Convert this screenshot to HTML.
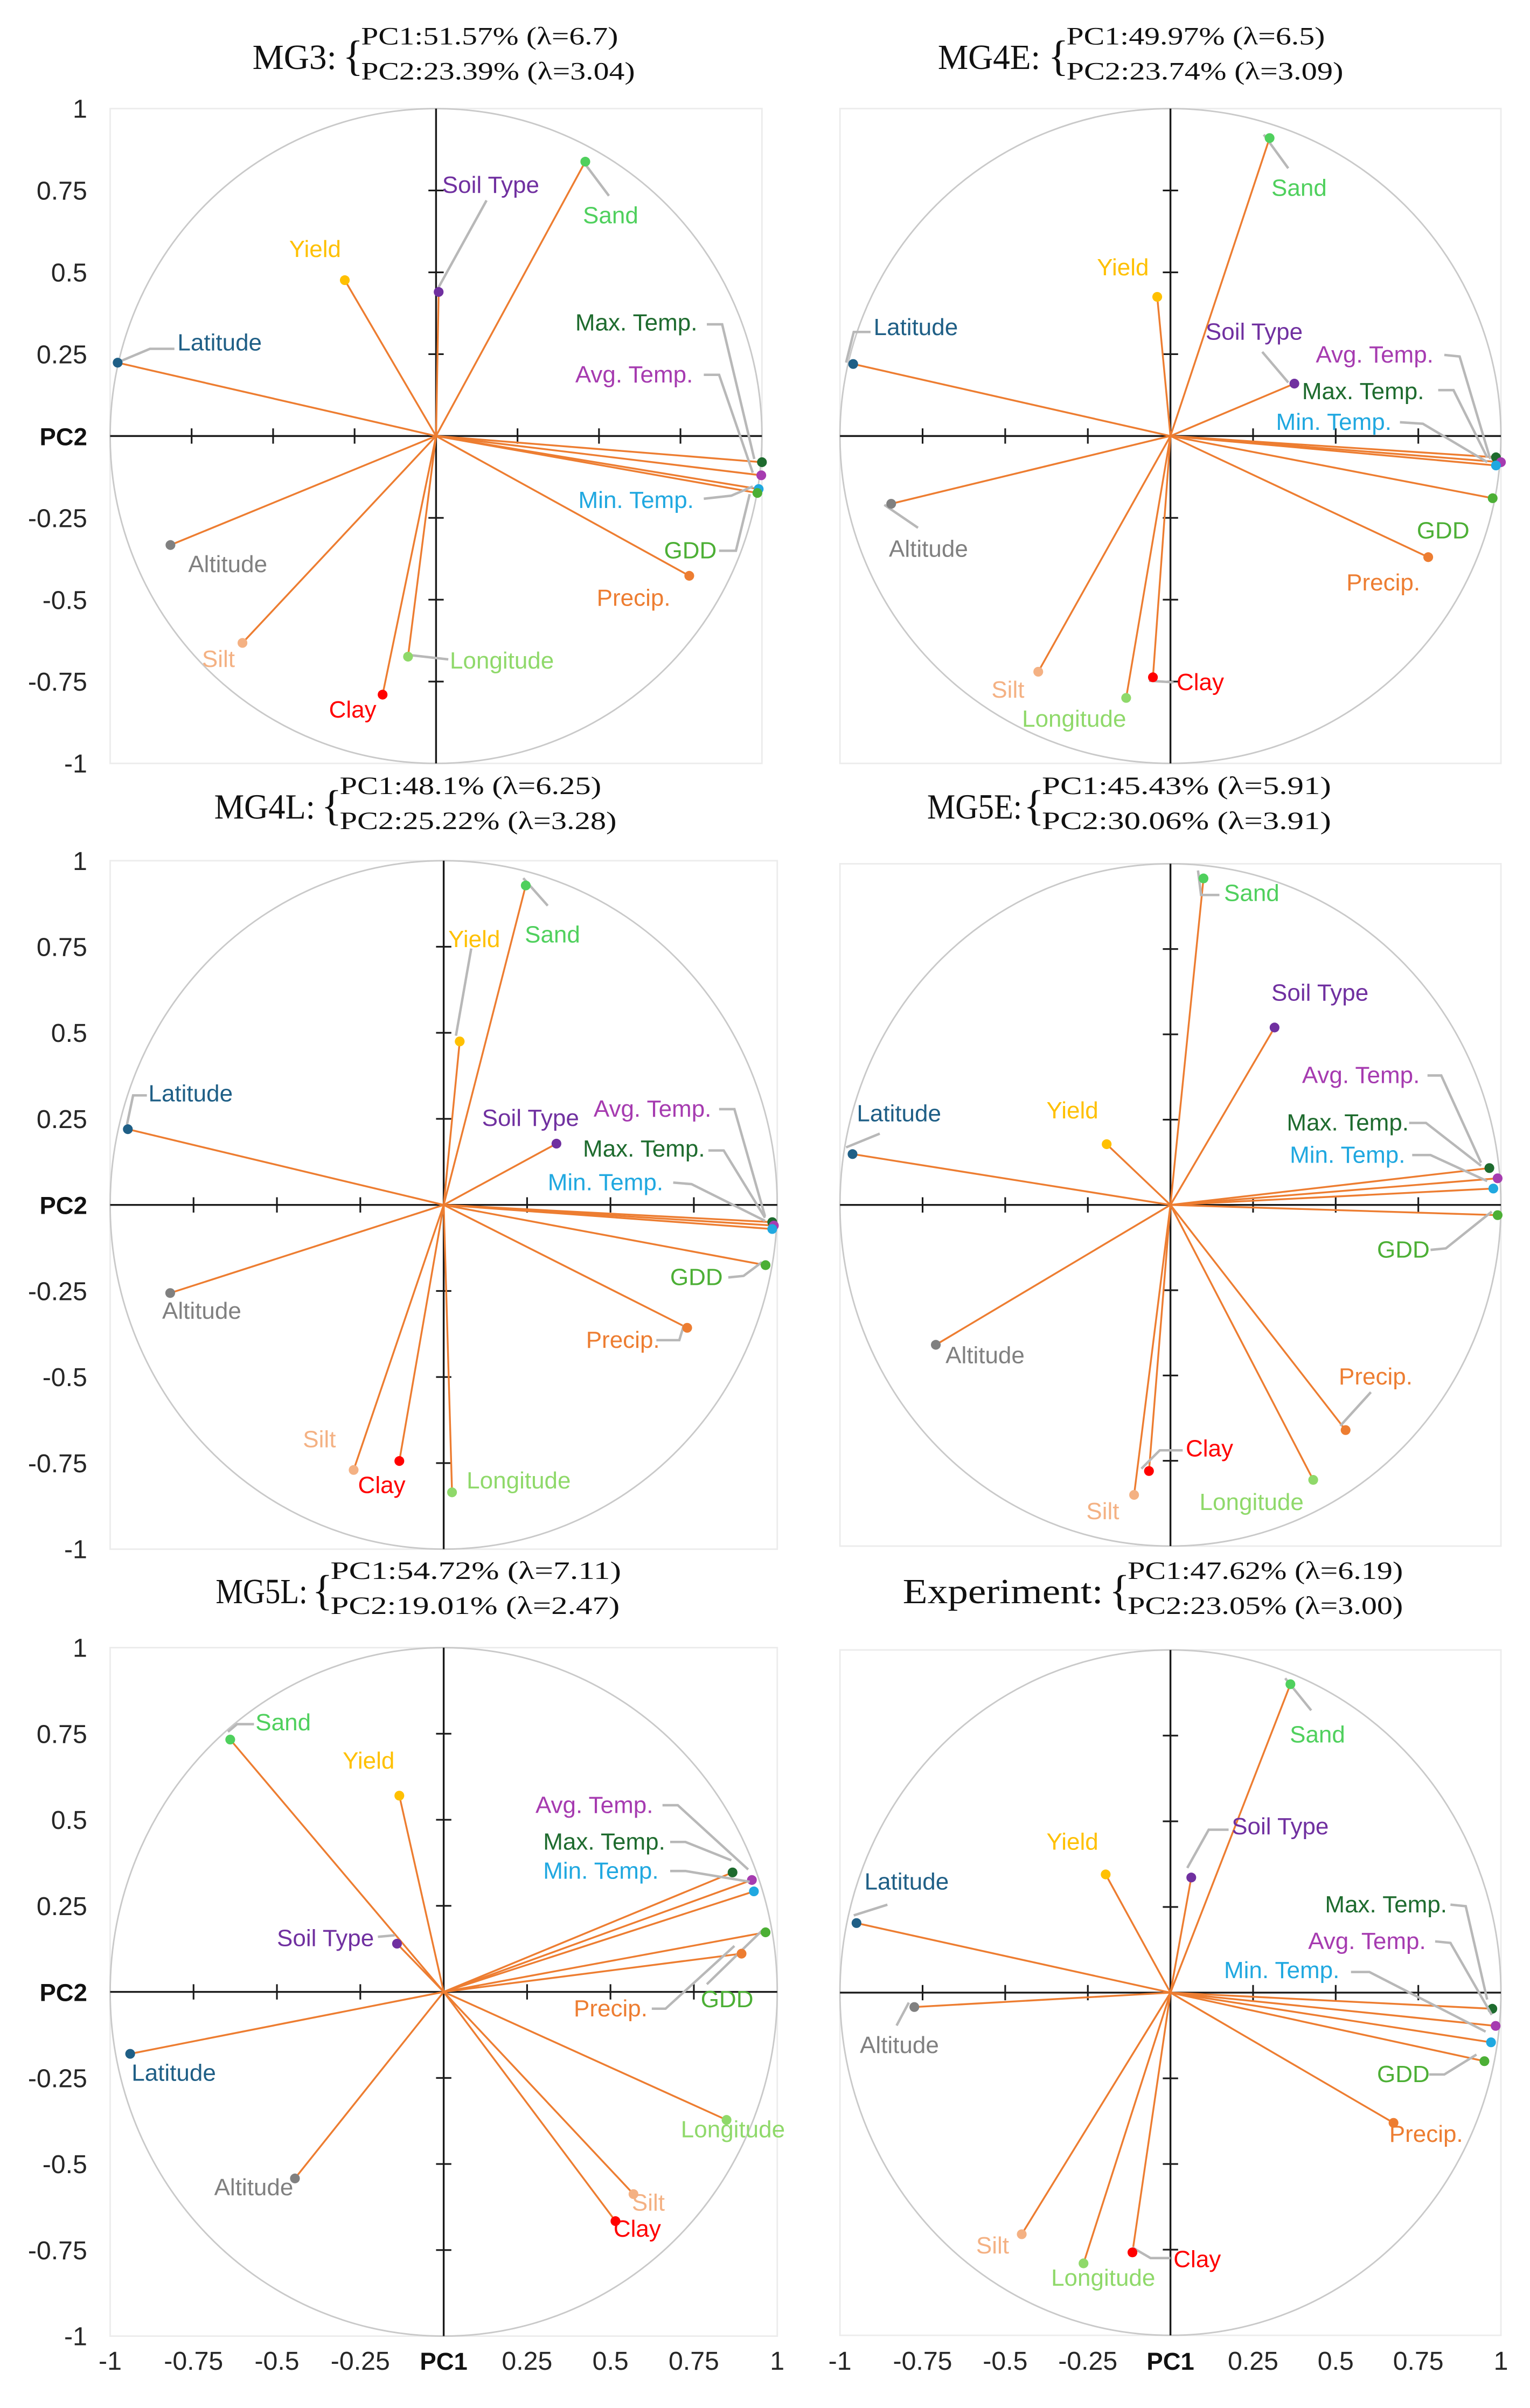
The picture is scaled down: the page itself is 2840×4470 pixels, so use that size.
<!DOCTYPE html>
<html><head><meta charset="utf-8">
<style>
html,body{margin:0;padding:0;background:#fff;}
svg{display:block;}
.tick{font-family:"Liberation Sans",sans-serif;font-size:17px;fill:#262626;}
.ax{font-family:"Liberation Sans",sans-serif;font-size:16px;font-weight:bold;fill:#111;}
.lbl{font-family:"Liberation Sans",sans-serif;font-size:15.5px;}
.ttl{font-family:"Liberation Serif","DejaVu Serif",serif;fill:#111;}
</style></head>
<body>
<svg id="fig" xmlns="http://www.w3.org/2000/svg" width="2840" height="4470" viewBox="0 0 1000 1574" preserveAspectRatio="none"></svg>
<script>
// Variables (shared across panels)
const varNames = ["Latitude","Yield","Soil Type","Sand","Max. Temp.","Avg. Temp.","Min. Temp.","GDD","Precip.","Longitude","Clay","Silt","Altitude"];
const varColors = ["#1f5f86","#ffc000","#7030a0","#4fd05d","#1e6b2e","#a63bb0","#20a8e0","#4caf35","#ed7d31","#8fd96a","#ff0000","#f4b183","#808080"];
// Loadings per panel (PC1 / PC2)
const mg3PC1 = [-0.977,-0.28,0.008,0.458,1.0,0.998,0.99,0.986,0.777,-0.086,-0.164,-0.594,-0.815];
const mg3PC2 = [0.224,0.476,0.44,0.838,-0.08,-0.12,-0.162,-0.174,-0.427,-0.674,-0.79,-0.632,-0.333];
const mg4ePC1 = [-0.96,-0.04,0.375,0.30,0.985,1.0,0.985,0.975,0.78,-0.134,-0.053,-0.40,-0.845];
const mg4ePC2 = [0.22,0.425,0.16,0.91,-0.065,-0.08,-0.09,-0.19,-0.37,-0.80,-0.737,-0.72,-0.207];
const mg4lPC1 = [-0.947,0.048,0.338,0.246,0.985,0.99,0.985,0.965,0.73,0.025,-0.133,-0.27,-0.82];
const mg4lPC2 = [0.22,0.475,0.178,0.928,-0.05,-0.06,-0.07,-0.175,-0.357,-0.835,-0.744,-0.77,-0.256];
const mg5ePC1 = [-0.962,-0.193,0.315,0.10,0.965,0.99,0.977,0.99,0.53,0.432,-0.065,-0.11,-0.71];
const mg5ePC2 = [0.149,0.178,0.52,0.957,0.108,0.078,0.048,-0.03,-0.66,-0.806,-0.78,-0.85,-0.41];
const mg5lPC1 = [-0.94,-0.133,-0.14,-0.64,0.866,0.924,0.93,0.965,0.893,0.848,0.515,0.569,-0.446];
const mg5lPC2 = [-0.18,0.57,0.14,0.733,0.347,0.325,0.292,0.173,0.111,-0.372,-0.666,-0.5875,-0.542];
const expPC1 = [-0.95,-0.196,0.063,0.363,0.974,0.984,0.97,0.95,0.675,-0.263,-0.115,-0.45,-0.775];
const expPC2 = [0.203,0.345,0.336,0.90,-0.047,-0.097,-0.145,-0.20,-0.38,-0.79,-0.758,-0.705,-0.042];
const tickValues = [-1,-0.75,-0.5,-0.25,0,0.25,0.5,0.75,1];
const tickLabels = ["-1","-0.75","-0.5","-0.25","PC1","0.25","0.5","0.75","1"];
const yTickLabels = ["-1","-0.75","-0.5","-0.25","PC2","0.25","0.5","0.75","1"];

const NS="http://www.w3.org/2000/svg";
const svg=document.getElementById('fig');
function mk(tag,attrs,parent){const e=document.createElementNS(NS,tag);for(const k in attrs)e.setAttribute(k,attrs[k]);(parent||svg).appendChild(e);return e;}

const panels=[
 {id:"mg3",name:"MG3:",nx:165,nw:55,l1:"PC1:51.57% (λ=6.7)",l2:"PC2:23.39% (λ=3.04)",lx:236,w1:168,w2:179,by:29,
  pc1:mg3PC1,pc2:mg3PC2,cx:285,cy:285,rx:213,ry:214,yl:true,xl:false,
  labels:[[116,229,[[79,236],[98,228],[114,228]]],[189,168,null],[289,126,[[286,189],[318,131]]],[381,146,[[380,104],[398,128]]],[376,216,[[462,212],[472,212],[493,300]]],[376,250,[[460,245],[470,245],[492,309]]],[378,332,[[460,326],[478,324],[492,318]]],[434,365,[[470,360],[481,360],[490,323]]],[390,396,null],[294,437,[[266,428],[293,431]]],[215,469,null],[132,436,null],[123,374,null]]},
 {id:"mg4e",name:"MG4E:",nx:613,nw:67,l1:"PC1:49.97% (λ=6.5)",l2:"PC2:23.74% (λ=3.09)",lx:697,w1:169,w2:181,by:29,
  pc1:mg4ePC1,pc2:mg4ePC2,cx:765,cy:285,rx:216,ry:214,yl:false,xl:false,
  labels:[[571,219,[[553,237],[558,217],[569,217]]],[717,180,null],[788,222,[[842,250],[825,230]]],[831,128,[[826,88],[842,110]]],[851,261,[[940,255],[950,255],[972,299]]],[860,237,[[944,232],[954,233],[974,300]]],[834,281,[[915,276],[930,277],[972,302]]],[926,352,null],[880,386,null],[668,475,null],[769,451,[[751,445],[767,446]]],[648,456,null],[581,364,[[578,330],[600,345]]]]},
 {id:"mg4l",name:"MG4L:",nx:140,nw:66,l1:"PC1:48.1% (λ=6.25)",l2:"PC2:25.22% (λ=3.28)",lx:222,w1:171,w2:181,by:519,
  pc1:mg4lPC1,pc2:mg4lPC2,cx:290,cy:787.6,rx:218,ry:225,yl:true,xl:false,
  labels:[[97,720,[[83,735],[87,716],[96,716]]],[293,619,[[298,677],[308,620]]],[315,736,null],[343,616,[[342,574],[358,592]]],[381,756,[[463,752],[473,752],[500,796]]],[388,730,[[470,725],[480,725],[500,795]]],[358,778,[[440,773],[452,774],[500,798]]],[438,840,[[476,835],[486,834],[498,825]]],[383,881,[[429,876],[444,876],[447,866]]],[305,973,null],[234,976,null],[198,946,null],[106,862,null]]},
 {id:"mg5e",name:"MG5E:",nx:606,nw:62,l1:"PC1:45.43% (λ=5.91)",l2:"PC2:30.06% (λ=3.91)",lx:681,w1:189,w2:189,by:519,
  pc1:mg5ePC1,pc2:mg5ePC2,cx:765,cy:787.6,rx:216,ry:223,yl:false,xl:false,
  labels:[[560,733,[[553,750],[575,741]]],[684,731,null],[831,654,null],[800,589,[[783,569],[785,585],[797,585]]],[841,739,[[921,734],[932,734],[968,762]]],[851,708,[[933,703],[942,703],[968,760]]],[843,760,[[923,755],[935,755],[972,772]]],[900,822,[[935,817],[945,816],[975,792]]],[875,905,[[896,910],[876,932]]],[784,987,null],[775,952,[[746,960],[758,948],[773,948]]],[710,993,null],[618,891,null]]},
 {id:"mg5l",name:"MG5L:",nx:141,nw:60,l1:"PC1:54.72% (λ=7.11)",l2:"PC2:19.01% (λ=2.47)",lx:216,w1:190,w2:189,by:1032,
  pc1:mg5lPC1,pc2:mg5lPC2,cx:290,cy:1302,rx:218,ry:225,yl:true,xl:true,
  labels:[[86,1360,null],[224,1156,null],[181,1272,[[247,1266],[258,1265]]],[167,1131,[[149,1132],[155,1127],[166,1127]]],[355,1209,[[438,1204],[448,1204],[478,1216]]],[350,1185,[[433,1180],[443,1180],[489,1222]]],[355,1228,[[438,1223],[448,1223],[490,1230]]],[458,1312,[[462,1297],[498,1262]]],[375,1318,[[426,1313],[435,1313],[480,1272]]],[445,1397,null],[401,1462,null],[413,1445,null],[140,1435,null]]},
 {id:"experiment",name:"Experiment:",nx:590,nw:131,l1:"PC1:47.62% (λ=6.19)",l2:"PC2:23.05% (λ=3.00)",lx:737,w1:180,w2:180,by:1032,
  pc1:expPC1,pc2:expPC2,cx:765,cy:1302.5,rx:216,ry:224,yl:false,xl:true,
  labels:[[565,1235,[[558,1252],[580,1245]]],[684,1209,null],[805,1199,[[776,1221],[790,1196],[803,1196]]],[843,1139,[[840,1097],[857,1118]]],[866,1250,[[948,1245],[958,1246],[972,1307]]],[855,1274,[[938,1269],[948,1270],[975,1317]]],[800,1293,[[883,1289],[895,1289],[971,1328]]],[900,1361,[[934,1356],[944,1356],[965,1343]]],[908,1400,null],[687,1494,null],[767,1482,[[740,1469],[752,1476],[765,1476]]],[638,1473,null],[562,1342,[[594,1309],[586,1324]]]]}
];

panels.forEach(p=>{
  const g=mk('g',{});
  
  
  const sx=v=>p.cx+v*p.rx, sy=v=>p.cy-v*p.ry;
  // title
  const t=mk('g',{},g);
  
  
  mk('text',{class:'ttl',x:p.nx,y:p.by+16,'font-size':23,textLength:p.nw,lengthAdjust:'spacingAndGlyphs'},t).textContent=p.name;
  mk('text',{class:'ttl',x:p.lx-12,y:p.by+17,'font-size':28},t).textContent='{';
  mk('text',{class:'ttl',x:p.lx,y:p.by,'font-size':16.5,textLength:p.w1,lengthAdjust:'spacingAndGlyphs'},t).textContent=p.l1;
  mk('text',{class:'ttl',x:p.lx,y:p.by+23,'font-size':16.5,textLength:p.w2,lengthAdjust:'spacingAndGlyphs'},t).textContent=p.l2;
  // plot frame
  const fr=mk('rect',{x:sx(-1),y:sy(1),width:2*p.rx,height:2*p.ry,fill:'none',stroke:'#ececec','stroke-width':1},g);
  
  
  const circ=mk('ellipse',{cx:p.cx,cy:p.cy,rx:p.rx,ry:p.ry,fill:'none',stroke:'#c9c9c9','stroke-width':1},g);
  
  
  // axes
  const xa=mk('line',{x1:sx(-1),x2:sx(1),y1:p.cy,y2:p.cy,stroke:'#1a1a1a','stroke-width':1.2},g);
  
  
  const ya=mk('line',{x1:p.cx,x2:p.cx,y1:sy(1),y2:sy(-1),stroke:'#1a1a1a','stroke-width':1.2},g);
  
  
  tickValues.forEach((v,i)=>{
    if(v!==0 && Math.abs(v)!==1){
      mk('line',{x1:sx(v),x2:sx(v),y1:p.cy-5,y2:p.cy+5,stroke:'#1a1a1a','stroke-width':1.1},g);
      mk('line',{x1:p.cx-5,x2:p.cx+5,y1:sy(v),y2:sy(v),stroke:'#1a1a1a','stroke-width':1.1},g);
    }
    if(p.yl){
      const yt=mk('text',{class:(v===0?'ax':'tick'),x:57,y:sy(v)+6,'text-anchor':'end'},g);
      
      
      yt.textContent=yTickLabels[i];
    }
    if(p.xl){
      const xt=mk('text',{class:(v===0?'ax':'tick'),x:sx(v),y:1549,'text-anchor':'middle'},g);
      
      
      xt.textContent=tickLabels[i];
    }
  });
  // vectors
  varNames.forEach((n,i)=>{
    const x=sx(p.pc1[i]), y=sy(p.pc2[i]);
    const ln=mk('line',{x1:p.cx,y1:p.cy,x2:x,y2:y,stroke:'#ed7d31','stroke-width':1.2},g);
    
    
  });
  varNames.forEach((n,i)=>{
    const L=p.labels[i];
    if(L[2]){
      mk('polyline',{points:L[2].map(q=>q.join(',')).join(' '),fill:'none',stroke:'#b8b8b8','stroke-width':1.6},g);
    }
    const pt=mk('circle',{cx:sx(p.pc1[i]),cy:sy(p.pc2[i]),r:3.2,fill:varColors[i]},g);
    
    
    const tx=mk('text',{class:'lbl',x:L[0],y:L[1],fill:varColors[i]},g);
    
    
    tx.textContent=n;
  });
});
</script>
</body></html>
